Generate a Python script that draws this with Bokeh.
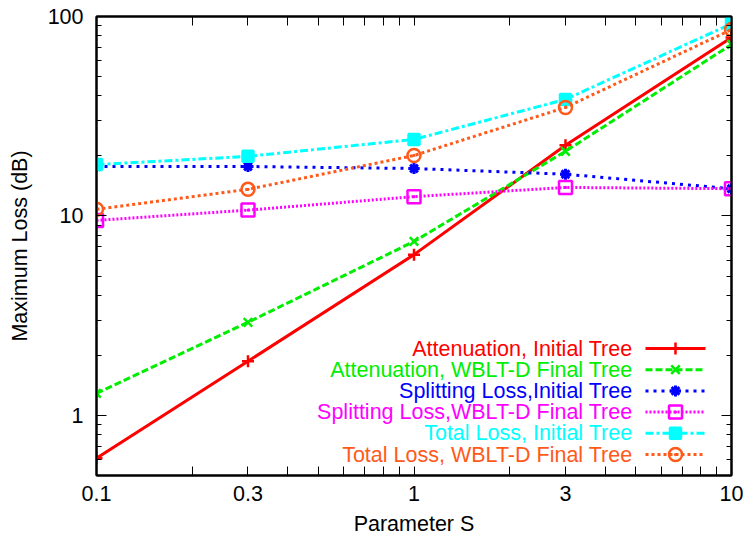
from bokeh.plotting import figure
from bokeh.models import FixedTicker, LogAxis, CustomJSTickFormatter
from bokeh.core.properties import value
from bokeh.embed import file_html
from bokeh.resources import INLINE
import math

# ---- data ----
S = [0.1, 0.3, 1, 3, 10]
att_init = [0.61, 1.87, 6.4, 22.6, 78.5]
att_final = [1.29, 2.93, 7.45, 21.1, 72.4]
split_init = [17.7, 17.7, 17.3, 16.2, 13.7]
split_final = [9.5, 10.7, 12.5, 13.9, 13.7]
total_init = [18.1, 19.9, 24.2, 38.4, 92.0]
total_final = [10.8, 13.6, 20.1, 35.0, 86.0]

names = ["Attenuation, Initial Tree", "Attenuation, WBLT-D Final Tree",
         "Splitting Loss,Initial Tree", "Splitting Loss,WBLT-D Final Tree",
         "Total Loss, Initial Tree", "Total Loss, WBLT-D Final Tree"]
series = [att_init, att_final, split_init, split_final, total_init, total_final]

x_ticks = [0.1, 0.3, 1, 3, 10]
x_minor = [0.2, 0.4, 0.5, 0.6, 0.7, 0.8, 0.9, 2, 4, 5, 6, 7, 8, 9]
y_ticks = [1, 10, 100]
y_minor = [0.5, 0.6, 0.7, 0.8, 0.9, 2, 3, 4, 5, 6, 7, 8, 9, 20, 30, 40, 50, 60, 70, 80, 90]

# ---- styles ----
colors = ["#ff0000", "#00ee00", "#0000ff", "#ff00ff", "#00ffff", "#ff5a1a"]
dashes = ["solid", "7 3", "3 5", "2 2", "8 3 3 3", "3 3"]
markers = ["cross", "x", "asterisk", "square_dot", "square", "circle_dot"]
msizes = [12, 12, 11, 13, 11, 13]
mwidth = [2.5, 2.5, 3, 2.5, 2.5, 2.5]
mfill = [None, None, None, None, "#00ffff", None]

FONT = "Liberation Sans"
FS = "21.5px"
XMIN, XMAX, YMIN, YMAX = 0.1, 10, 0.5, 100

W, H = 743, 539
L, R, T, B = 96, 12, 16, 64

p = figure(width=W, height=H, x_axis_type="log", y_axis_type="log",
           x_range=(XMIN, XMAX), y_range=(YMIN, YMAX),
           output_backend="svg", toolbar_location=None,
           min_border_left=L, min_border_right=R, min_border_top=T, min_border_bottom=B)
p.xgrid.visible = False
p.ygrid.visible = False
p.outline_line_color = "black"
p.outline_line_width = 2
p.background_fill_color = "white"
p.border_fill_color = "white"

fmt = CustomJSTickFormatter(code="return tick.toString();")
blank = CustomJSTickFormatter(code="return '';")

def style_common(ax, labels):
    ax.major_tick_out = 0
    ax.minor_tick_out = 0
    ax.major_tick_line_width = 1
    ax.minor_tick_line_width = 1
    ax.axis_line_width = 2
    ax.major_label_text_font = FONT
    ax.major_label_text_color = "black"
    ax.major_label_text_font_size = FS
    if labels:
        ax.formatter = fmt
    else:
        ax.formatter = blank
        ax.major_label_standoff = 0

def style_x(ax, labels=True):
    ax.ticker = FixedTicker(ticks=x_ticks, minor_ticks=x_minor)
    ax.major_tick_in = 9
    ax.minor_tick_in = 9
    style_common(ax, labels)
    if labels:
        ax.major_label_standoff = 10

def style_y(ax, labels=True):
    ax.ticker = FixedTicker(ticks=y_ticks, minor_ticks=y_minor)
    ax.major_tick_in = 10
    ax.minor_tick_in = 5
    style_common(ax, labels)
    if labels:
        ax.major_label_standoff = 13

style_x(p.xaxis[0])
style_y(p.yaxis[0])
p.xaxis[0].axis_label = "Parameter S"
p.yaxis[0].axis_label = "Maximum Loss (dB)"
for ax in (p.xaxis[0], p.yaxis[0]):
    ax.axis_label_text_font = FONT
    ax.axis_label_text_font_size = FS
    ax.axis_label_text_font_style = "normal"
    ax.axis_label_text_color = "black"
p.xaxis[0].axis_label_standoff = 8
p.yaxis[0].axis_label_standoff = 13

top = LogAxis()
style_x(top, labels=False)
p.add_layout(top, "above")
right = LogAxis()
style_y(right, labels=False)
p.add_layout(right, "right")

# ---- series ----
for ys, c, d, m, ms, mw, mf in zip(series, colors, dashes, markers, msizes, mwidth, mfill):
    p.line(S, ys, line_color=c, line_width=3, line_dash=d)
    p.scatter(S, ys, marker=m, size=ms, line_color=c, line_width=mw,
              fill_color=mf if mf else None)

# ---- key (placed in frame-relative pixel layout) ----
FW = W - L - R
FH = H - T - B

def fx(px):  # px from frame left
    return 10 ** (math.log10(XMIN) + px / FW * math.log10(XMAX / XMIN))

def fy(py):  # py from frame top
    return 10 ** (math.log10(YMAX) - py / FH * math.log10(YMAX / YMIN))

row0, row_step = 332, 21.2
text_right, samp0, samp1 = 536, 549, 609
for i, (n, c, d, m, ms, mw, mf) in enumerate(zip(names, colors, dashes, markers, msizes, mwidth, mfill)):
    yy = fy(row0 + i * row_step)
    p.text([fx(text_right)], [yy], text=[n], text_color=c, text_align="right",
           text_baseline="middle", text_font=value(FONT), text_font_size=FS)
    p.line([fx(samp0), fx(samp1)], [yy, yy], line_color=c, line_width=3, line_dash=d)
    p.scatter([fx((samp0 + samp1) / 2)], [yy], marker=m, size=ms, line_color=c,
              line_width=mw, fill_color=mf if mf else None)

open("out.html", "w").write(file_html(p, INLINE))
